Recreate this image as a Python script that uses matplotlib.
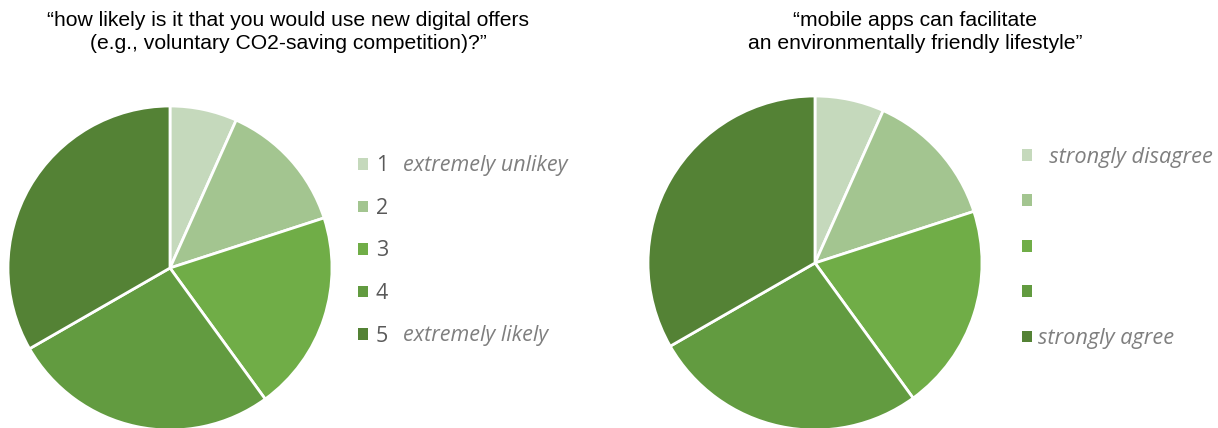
import matplotlib.pyplot as plt
from matplotlib.patches import Patch

# share of answers per level (5-point scale)
levels = ['1', '2', '3', '4', '5']
offers_share = [6.7, 13.3, 20.0, 26.7, 33.3]
apps_share = [6.7, 13.3, 20.0, 26.7, 33.3]
apps_labels = ['  strongly disagree', '', '', '', 'strongly agree']
offers_notes = {'1': 'extremely unlikey', '5': 'extremely likely'}

colors = ['#C5D9BC', '#A3C590', '#70AD47', '#629B40', '#548235']
W, H = 1218, 428

fig = plt.figure(figsize=(W / 100, H / 100), dpi=100)
title_font = ['Liberation Sans', 'DejaVu Sans']
leg_font = ['Open Sans', 'DejaVu Sans']

def px_axes(x0, y0, x1, y1):
    return fig.add_axes([x0 / W, 1 - y1 / H, (x1 - x0) / W, (y1 - y0) / H])

def draw_pie(ax, vals):
    ax.pie(vals, colors=colors, startangle=90, counterclock=False,
           wedgeprops=dict(edgecolor='white', linewidth=2))
    ax.set_xlim(-1, 1)
    ax.set_ylim(-1, 1)
    ax.set_aspect('equal')
    ax.axis('off')

# left pie
ax1 = px_axes(8, 106, 332, 430)
draw_pie(ax1, offers_share)

# right pie
ax2 = px_axes(648, 96, 982, 430)
draw_pie(ax2, apps_share)

fig.text(288 / W, 1 - 32 / H,
         '\u201chow likely is it that you would use new digital offers\n'
         '(e.g., voluntary CO2-saving competition)?\u201d',
         ha='center', va='center', fontsize=15.2, family=title_font,
         linespacing=1.27)
fig.text(915 / W, 1 - 32 / H,
         '\u201cmobile apps can facilitate\n'
         'an environmentally friendly lifestyle\u201d',
         ha='center', va='center', fontsize=15.2, family=title_font,
         linespacing=1.27)

handles = [Patch(facecolor=c, edgecolor='none') for c in colors]

leg1 = fig.legend(handles, levels, loc='center left',
                  bbox_to_anchor=(358 / W, 1 - 251 / H), frameon=False,
                  borderpad=0, borderaxespad=0, handlelength=0.45,
                  handleheight=0.45, handletextpad=0.38, labelspacing=1.0,
                  prop=dict(family=leg_font, size=15.5))
for t in leg1.get_texts():
    t.set_color('#595959')

row_y = [165, 208, 250, 293, 336]
for lv, y in zip(levels, row_y):
    if lv in offers_notes:
        fig.text(403 / W, 1 - y / H, offers_notes[lv], ha='left', va='center',
                 fontsize=15.5, style='italic', color='#7F7F7F', family=leg_font)

leg2 = fig.legend(handles, apps_labels, loc='center left',
                  bbox_to_anchor=(1022 / W, 1 - 248 / H), frameon=False,
                  borderpad=0, borderaxespad=0, handlelength=0.45,
                  handleheight=0.45, handletextpad=0.28, labelspacing=1.12,
                  prop=dict(family=leg_font, size=15.7, style='italic'))
for t in leg2.get_texts():
    t.set_color('#7F7F7F')

fig.savefig('out.png', dpi=100)
